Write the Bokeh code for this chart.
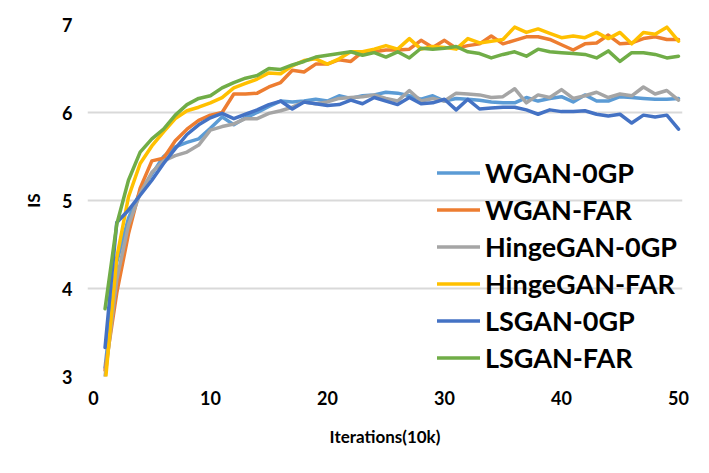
from bokeh.plotting import figure
from bokeh.models import Range1d, Legend, LegendItem
from bokeh.embed import file_html
from bokeh.resources import INLINE

iterations = list(range(1, 51))

wgan_0gp = [3.10, 4.30, 4.80, 5.10, 5.30, 5.50, 5.61, 5.66, 5.70, 5.82,
            5.95, 5.86, 5.94, 6.00, 6.07, 6.13, 6.12, 6.13, 6.15, 6.13,
            6.19, 6.16, 6.19, 6.20, 6.23, 6.22, 6.19, 6.15, 6.19, 6.13,
            6.16, 6.15, 6.14, 6.12, 6.11, 6.11, 6.17, 6.13, 6.16, 6.18,
            6.12, 6.20, 6.13, 6.13, 6.18, 6.17, 6.16, 6.15, 6.15, 6.16]
wgan_far = [3.07, 3.95, 4.62, 5.14, 5.45, 5.48, 5.68, 5.81, 5.91, 5.97,
            6.00, 6.21, 6.21, 6.22, 6.29, 6.34, 6.48, 6.46, 6.55, 6.55,
            6.60, 6.58, 6.69, 6.69, 6.71, 6.71, 6.72, 6.82, 6.74, 6.82,
            6.73, 6.76, 6.78, 6.87, 6.78, 6.82, 6.86, 6.86, 6.83, 6.77,
            6.71, 6.78, 6.79, 6.88, 6.78, 6.79, 6.84, 6.86, 6.83, 6.83]
hinge_0gp = [3.00, 4.10, 4.72, 5.08, 5.32, 5.45, 5.51, 5.55, 5.63, 5.80,
             5.84, 5.87, 5.93, 5.93, 5.99, 6.02, 6.06, 6.12, 6.10, 6.12,
             6.16, 6.17, 6.18, 6.20, 6.16, 6.13, 6.25, 6.13, 6.16, 6.13,
             6.22, 6.21, 6.20, 6.17, 6.18, 6.27, 6.11, 6.20, 6.17, 6.26,
             6.16, 6.19, 6.23, 6.17, 6.21, 6.19, 6.29, 6.21, 6.25, 6.14]
hinge_far = [2.90, 4.35, 5.04, 5.42, 5.62, 5.78, 5.93, 6.02, 6.06, 6.11,
             6.17, 6.28, 6.33, 6.38, 6.45, 6.44, 6.53, 6.59, 6.61, 6.55,
             6.61, 6.69, 6.69, 6.72, 6.76, 6.72, 6.84, 6.72, 6.75, 6.74,
             6.72, 6.84, 6.79, 6.81, 6.83, 6.97, 6.91, 6.95, 6.90, 6.85,
             6.87, 6.85, 6.91, 6.84, 6.91, 6.78, 6.91, 6.89, 6.97, 6.81]
lsgan_0gp = [3.33, 4.75, 4.89, 5.06, 5.23, 5.42, 5.59, 5.75, 5.86, 5.94,
             5.99, 5.93, 5.98, 6.03, 6.09, 6.13, 6.04, 6.12, 6.10, 6.08,
             6.09, 6.14, 6.10, 6.17, 6.13, 6.09, 6.17, 6.10, 6.11, 6.15,
             6.03, 6.15, 6.04, 6.05, 6.06, 6.06, 6.03, 5.98, 6.03, 6.01,
             6.01, 6.02, 5.98, 5.96, 5.98, 5.88, 5.97, 5.95, 5.97, 5.81]
lsgan_far = [3.77, 4.73, 5.23, 5.55, 5.70, 5.81, 5.97, 6.09, 6.16, 6.19,
             6.28, 6.34, 6.39, 6.42, 6.50, 6.49, 6.54, 6.58, 6.63, 6.65,
             6.67, 6.69, 6.65, 6.68, 6.63, 6.69, 6.62, 6.73, 6.72, 6.73,
             6.75, 6.69, 6.67, 6.62, 6.66, 6.69, 6.64, 6.72, 6.69, 6.68,
             6.67, 6.66, 6.62, 6.70, 6.58, 6.68, 6.68, 6.66, 6.62, 6.64]

series_names = ["WGAN-0GP", "WGAN-FAR", "HingeGAN-0GP", "HingeGAN-FAR", "LSGAN-0GP", "LSGAN-FAR"]
series_values = [wgan_0gp, wgan_far, hinge_0gp, hinge_far, lsgan_0gp, lsgan_far]
series_colors = ["#5B9BD5", "#ED7D31", "#A5A5A5", "#FFC000", "#4472C4", "#70AD47"]

x_ticks = [0, 10, 20, 30, 40, 50]
y_ticks = [3, 4, 5, 6, 7]

FONT = "Lato"

p = figure(width=700, height=460,
           x_range=Range1d(-0.5, 50.34), y_range=Range1d(3, 7),
           output_backend="svg", toolbar_location=None,
           min_border_left=87, min_border_right=18,
           min_border_top=24, min_border_bottom=84)
p.outline_line_color = None
p.background_fill_color = "white"
p.border_fill_color = "white"

p.xgrid.visible = False
p.ygrid.grid_line_color = "#D9D9D9"
p.ygrid.grid_line_width = 2

p.xaxis.ticker = x_ticks
p.yaxis.ticker = y_ticks
for ax in (p.xaxis, p.yaxis):
    ax.axis_line_color = None
    ax.major_tick_line_color = None
    ax.minor_tick_line_color = None
    ax.major_label_text_font = FONT
    ax.major_label_text_font_style = "bold"
    ax.major_label_text_font_size = "18px"
    ax.major_label_text_color = "#000000"
    ax.axis_label_text_font = FONT
    ax.axis_label_text_font_style = "bold"
    ax.axis_label_text_font_size = "17px"
    ax.axis_label_text_color = "#000000"

p.xaxis.axis_label = "Iterations(10k)"
p.yaxis.axis_label = "IS"
p.xaxis.major_label_standoff = 8
p.xaxis.axis_label_standoff = 18
p.yaxis.major_label_standoff = 9
p.yaxis.axis_label_standoff = 15

items = []
for name, vals, col in zip(series_names, series_values, series_colors):
    r = p.line(iterations, vals, line_color=col, line_width=3.5,
               line_join="round", line_cap="round")
    items.append(LegendItem(label=name, renderers=[r]))

legend = Legend(items=items, location=(350, 0))
legend.background_fill_alpha = 0
legend.border_line_color = None
legend.glyph_width = 43
legend.glyph_height = 37
legend.label_height = 37
legend.label_standoff = 5
legend.spacing = 0
legend.padding = 0
legend.margin = 0
legend.label_text_font = FONT
legend.label_text_font_style = "bold"
legend.label_text_font_size = "27px"
legend.label_text_color = "#000000"
p.add_layout(legend)

open("out.html", "w").write(file_html(p, INLINE))
